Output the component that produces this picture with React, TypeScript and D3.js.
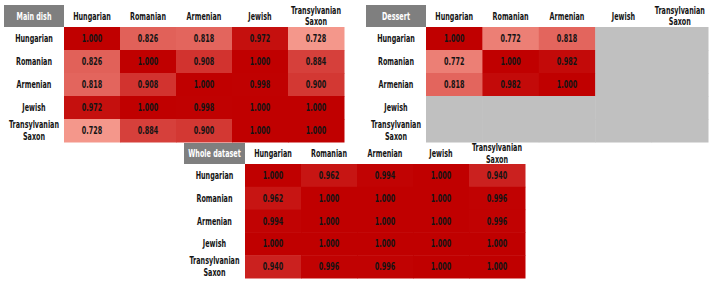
import React from "react";
import * as d3 from "d3";

const groups = ["Hungarian", "Romanian", "Armenian", "Jewish", "Transylvanian Saxon"];

const mainDishValues = [
  [1.0, 0.826, 0.818, 0.972, 0.728],
  [0.826, 1.0, 0.908, 1.0, 0.884],
  [0.818, 0.908, 1.0, 0.998, 0.9],
  [0.972, 1.0, 0.998, 1.0, 1.0],
  [0.728, 0.884, 0.9, 1.0, 1.0],
];

// Dessert has no data for Jewish and Transylvanian Saxon (null = missing)
const dessertValues: (number | null)[][] = [
  [1.0, 0.772, 0.818, null, null],
  [0.772, 1.0, 0.982, null, null],
  [0.818, 0.982, 1.0, null, null],
  [null, null, null, null, null],
  [null, null, null, null, null],
];

const wholeValues = [
  [1.0, 0.962, 0.994, 1.0, 0.94],
  [0.962, 1.0, 1.0, 1.0, 0.996],
  [0.994, 1.0, 1.0, 1.0, 0.996],
  [1.0, 1.0, 1.0, 1.0, 1.0],
  [0.94, 0.996, 0.996, 1.0, 1.0],
];

const panelTitles = ["Main dish", "Dessert", "Whole dataset"];

const FONT = "'DejaVu Sans Condensed', 'DejaVu Sans', sans-serif";
const SQUEEZE = 0.68; // narrow the condensed face further

const color = d3.scaleLinear<string>().domain([0.728, 1]).range(["#f4978b", "#c00000"]).clamp(true);

type PanelProps = {
  title: string;
  values: (number | null)[][];
  left: number; // left edge of label column
  labelW: number;
  top: number; // top of header band
  headerH: number;
  cellW: number;
  cellH: number;
};

function Txt({ x, y, text, fill = "#141414", size = 10.5 }: { x: number; y: number; text: string; fill?: string; size?: number }) {
  return (
    <g transform={`translate(${x},${y}) scale(${SQUEEZE},1)`}>
      <text x={0} y={0} textAnchor="middle" dominantBaseline="central" fontFamily={FONT} fontWeight="bold" fontSize={size} fill={fill}>
        {text}
      </text>
    </g>
  );
}

function Label({ x, y, text, fill = "#141414" }: { x: number; y: number; text: string; fill?: string }) {
  const words = text === "Transylvanian Saxon" ? ["Transylvanian", "Saxon"] : [text];
  const lh = 11.5;
  const y0 = y - ((words.length - 1) * lh) / 2;
  return (
    <g>
      {words.map((w, i) => (
        <Txt key={i} x={x} y={y0 + i * lh} text={w} fill={fill} />
      ))}
    </g>
  );
}

function Panel({ title, values, left, labelW, top, headerH, cellW, cellH }: PanelProps) {
  const x0 = left + labelW;
  const y0 = top + headerH;
  const xs = d3.scaleBand<string>().domain(groups).range([x0, x0 + cellW * groups.length]);
  const ys = d3.scaleBand<string>().domain(groups).range([y0, y0 + cellH * groups.length]);
  return (
    <g>
      <rect x={left} y={top} width={labelW} height={headerH} fill="#7f7f7f" />
      <Label x={left + labelW / 2} y={top + headerH / 2} text={title} fill="#ffffff" />
      {groups.map((g) => (
        <Label key={"c" + g} x={xs(g)! + cellW / 2} y={top + headerH / 2} text={g} />
      ))}
      {groups.map((g) => (
        <Label key={"r" + g} x={left + labelW / 2} y={ys(g)! + cellH / 2} text={g} />
      ))}
      {values.map((row, i) =>
        row.map((v, j) => (
          <g key={i + "-" + j}>
            <rect
              x={xs(groups[j])!}
              y={ys(groups[i])!}
              width={xs.bandwidth() + 0.5}
              height={ys.bandwidth() + 0.5}
              fill={v == null ? "#c0c0c0" : color(v)}
            />
            {v != null && <Txt x={xs(groups[j])! + cellW / 2} y={ys(groups[i])! + cellH / 2} text={v.toFixed(3)} />}
          </g>
        ))
      )}
    </g>
  );
}

export default function App() {
  return (
    <svg width={712} height={282} style={{ position: "absolute", left: 0, top: 0, background: "#ffffff" }}>
      <rect width={712} height={282} fill="#ffffff" />
      <Panel title={panelTitles[0]} values={mainDishValues} left={4} labelW={60} top={5} headerH={22} cellW={56} cellH={23} />
      <Panel title={panelTitles[1]} values={dessertValues} left={366} labelW={60} top={5} headerH={22} cellW={56.4} cellH={23} />
      <Panel title={panelTitles[2]} values={wholeValues} left={184} labelW={61} top={143} headerH={21} cellW={56} cellH={22.8} />
    </svg>
  );
}
